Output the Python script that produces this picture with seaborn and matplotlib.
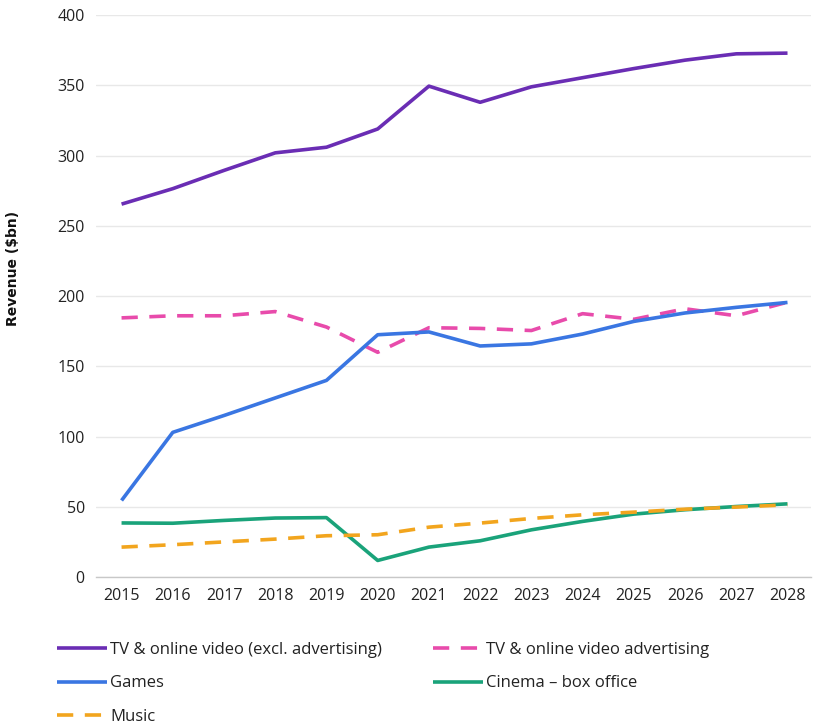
import matplotlib
matplotlib.use("Agg")
import matplotlib.pyplot as plt
import seaborn as sns
import pandas as pd

years = list(range(2015, 2029))
tv_video = [265.5, 276.5, 289.5, 302, 306, 319, 349.5, 338, 349, 355.5, 362, 368, 372.5, 373]
tv_ads = [184.5, 186, 186, 189, 178, 160, 177.5, 177, 175.5, 187.5, 183.5, 191, 186, 195.7]
games = [54.5, 103, 115, 127.5, 140, 172.5, 174.5, 164.5, 166, 173, 182, 188, 192, 195.5]
cinema = [38.5, 38.3, 40.3, 42, 42.3, 11.8, 21.3, 25.8, 33.6, 39.6, 44.8, 47.9, 50.2, 52.1]
music = [21.3, 23, 25, 27, 29.4, 30.1, 35.5, 38.4, 41.7, 44.3, 46.2, 48.3, 49.8, 51.4]

series_names = ["TV & online video (excl. advertising)", "TV & online video advertising",
                "Games", "Cinema \u2013 box office", "Music"]
series_vals = [tv_video, tv_ads, games, cinema, music]
colors = ["#6a2db4", "#e84bab", "#3a76e2", "#1aa37a", "#f2a51e"]
dashed = [False, True, False, False, True]
yticks = [0, 50, 100, 150, 200, 250, 300, 350, 400]

sns.set_theme(style="whitegrid")
plt.rcParams['font.family'] = ['Open Sans', 'DejaVu Sans']

fig = plt.figure(figsize=(8.13, 7.24), dpi=100)
ax = fig.add_axes([0.118, 0.203, 0.879, 0.776])

handles = []
for name, vals, c, d in zip(series_names, series_vals, colors, dashed):
    df = pd.DataFrame({"year": years, "value": vals})
    sns.lineplot(data=df, x="year", y="value", ax=ax, color=c, linewidth=2.6, label=name)
    ln = ax.lines[-1]
    if d:
        ln.set_dashes((4.5, 3.2))
    ln.set_solid_capstyle('butt')
    handles.append(ln)

ax.get_legend().remove()
ax.set_xlim(2014.5, 2028.45)
ax.set_ylim(0, 400)
ax.set_yticks(yticks)
ax.set_xticks(years)
ax.set_xticklabels([str(y) for y in years])
ax.grid(axis='x', visible=False)
ax.grid(axis='y', color='#e8e8e8', linewidth=1)
for s in ['top', 'right', 'left']:
    ax.spines[s].set_visible(False)
ax.spines['bottom'].set_color('#c8c8c8')
ax.spines['bottom'].set_linewidth(1)
ax.tick_params(axis='both', labelsize=11.5, colors='#222222', length=0, pad=8)
ax.set_xlabel("")
ax.set_ylabel("Revenue ($bn)", fontsize=10, fontweight='bold', family='DejaVu Sans', color='#111111')
ax.yaxis.set_label_coords(-0.106, 0.55)

legkw = dict(frameon=False, fontsize=12, handlelength=3.0, handletextpad=0.2,
             labelspacing=1.05, borderaxespad=0, labelcolor='#222222')
fig.legend([handles[0], handles[2], handles[4]], [series_names[0], series_names[2], series_names[4]],
           loc='upper left', bbox_to_anchor=(0.062, 0.1225), **legkw)
fig.legend([handles[1], handles[3]], [series_names[1], series_names[3]],
           loc='upper left', bbox_to_anchor=(0.5246, 0.1225), **legkw)

fig.savefig("out.png", dpi=100)
